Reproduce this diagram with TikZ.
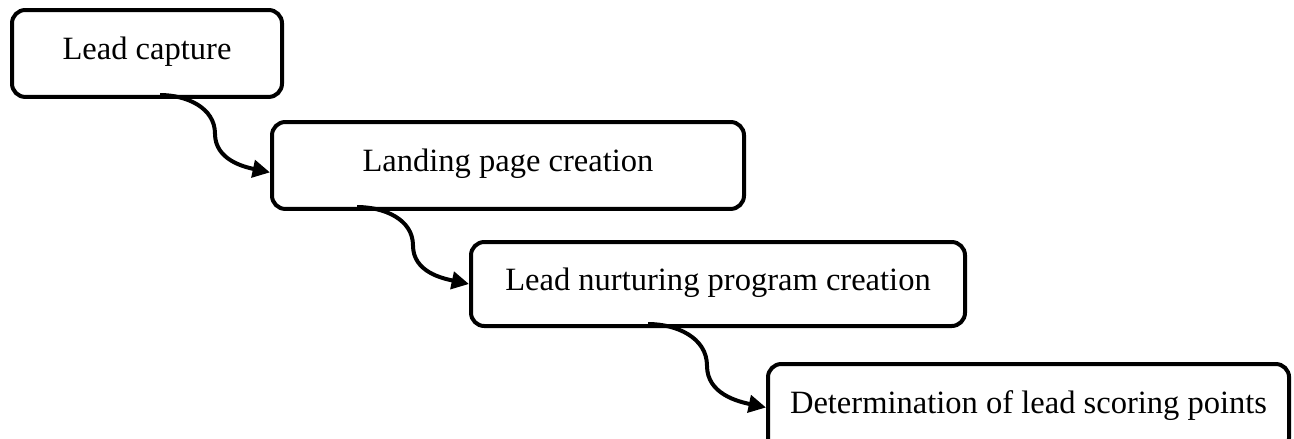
\documentclass[tikz,border=0pt]{standalone}
\usepackage{fontspec}
\setmainfont{Liberation Serif}
\usetikzlibrary{arrows.meta,calc}
\begin{document}
\begin{tikzpicture}[x=0.375pt,y=-0.375pt,
    stage/.style={
      draw,
      line width=1.5pt,
      rounded corners=5pt,
      anchor=north west,
      minimum height=32.6pt,
      text height=8.5pt,
      text depth=4pt,
      font=\fontsize{12.2pt}{14pt}\selectfont},
    link/.style={
      line width=1.5pt,
      -{Triangle[length=6.5pt,width=6.5pt]}}]
    \useasboundingbox (0,0) rectangle (1294,438);

    \node[stage,minimum width=101.25pt] (capture) at (10,8) {Lead capture};
    \node[stage,minimum width=177pt] (landing) at (270,120) {Landing page creation};
    \node[stage,minimum width=185.25pt,minimum height=31.5pt] (nurture) at (469,240) {Lead nurturing program creation};
    \node[stage,minimum width=195.4pt] (scoring) at (766,362) {Determination of lead scoring points};

    % connector start points on the bottom edges
    \coordinate (s1) at (160,95);
    \coordinate (s2) at (357,207);
    \coordinate (s3) at (648,324);
    \coordinate (e1) at ([yshift=-2.6pt]landing.west);

    \draw[link] (s1) to[out=0,in=90] ($(s1)!0.5!(e1)$) to[out=-90,in=168] (e1);
    \draw[link] (s2) to[out=0,in=90] ($(s2)!0.5!(nurture.west)$) to[out=-90,in=168] (nurture.west);
    \draw[link] (s3) to[out=0,in=90] ($(s3)!0.5!(scoring.west)$) to[out=-90,in=168] (scoring.west);
\end{tikzpicture}
\end{document}
